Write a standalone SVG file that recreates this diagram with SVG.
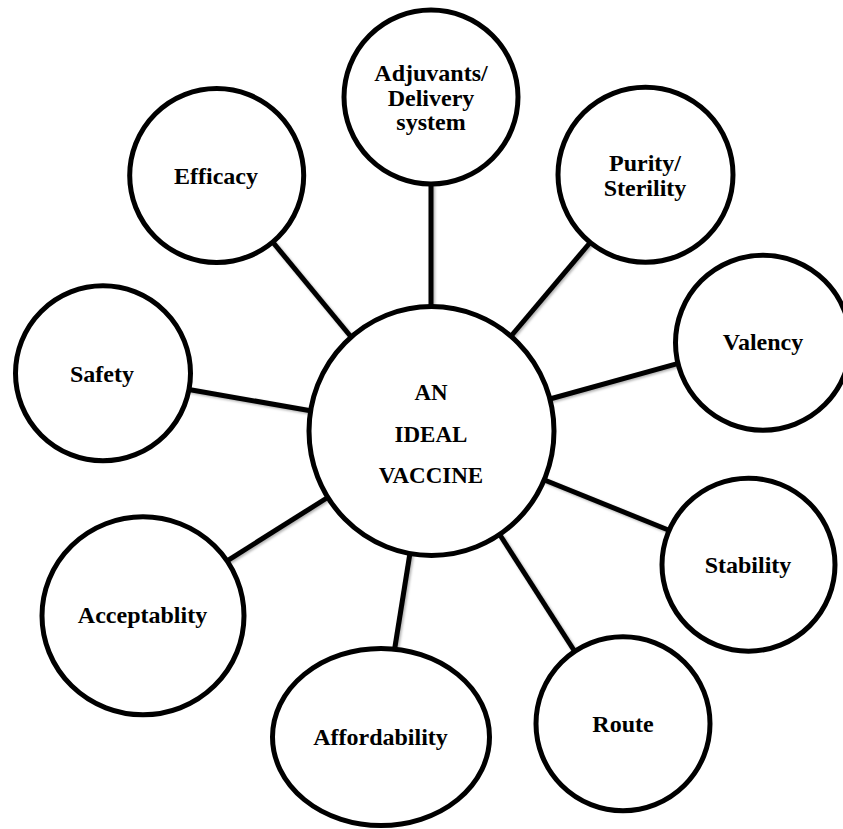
<svg xmlns="http://www.w3.org/2000/svg" width="843" height="829" viewBox="0 0 843 829">
<style>
.node{fill:#ffffff;stroke:#000000;stroke-width:5}
.lbl{font-family:"Liberation Serif","Times New Roman",serif;font-weight:bold;font-size:24px;fill:#000000;text-anchor:middle}
.ctr{font-size:23px}
.conn line{stroke:#000000;stroke-width:5;stroke-linecap:butt}
</style>
<defs>
<filter id="sh" x="-20%" y="-20%" width="140%" height="140%">
<feDropShadow dx="1.5" dy="1.5" stdDeviation="1.2" flood-color="#000000" flood-opacity="0.3"/>
</filter>
</defs>
<rect x="0" y="0" width="843" height="829" fill="#ffffff"/>
<g id="connectors" class="conn" filter="url(#sh)">
<line x1="431" y1="180" x2="431" y2="312"/>
<line x1="271" y1="240" x2="352" y2="338"/>
<line x1="591" y1="241.5" x2="509" y2="338.5"/>
<line x1="681" y1="362.6" x2="548" y2="399.5"/>
<line x1="186" y1="389" x2="312" y2="411"/>
<line x1="672" y1="531.5" x2="542" y2="479"/>
<line x1="224" y1="562.8" x2="330" y2="496"/>
<line x1="394" y1="653" x2="410" y2="553"/>
<line x1="577" y1="655" x2="500" y2="535"/>
</g>
<g id="node-center">
<ellipse class="node" cx="431.5" cy="431" rx="122.5" ry="124.5"/>
<text class="lbl ctr" x="431" y="400">AN</text>
<text class="lbl ctr" x="431" y="441.7">IDEAL</text>
<text class="lbl ctr" x="431" y="483">VACCINE</text>
</g>
<g id="node-adjuvants">
<circle class="node" cx="431" cy="97" r="87"/>
<text class="lbl" x="431" y="81">Adjuvants/</text>
<text class="lbl" x="431" y="106">Delivery</text>
<text class="lbl" x="431" y="130">system</text>
</g>
<g id="node-efficacy">
<circle class="node" cx="216.7" cy="175.5" r="87"/>
<text class="lbl" x="216" y="184">Efficacy</text>
</g>
<g id="node-purity">
<circle class="node" cx="645.5" cy="174.7" r="87.5"/>
<text class="lbl" x="645" y="171">Purity/</text>
<text class="lbl" x="645" y="195.7">Sterility</text>
</g>
<g id="node-valency">
<circle class="node" cx="763" cy="342.7" r="87.5"/>
<text class="lbl" x="763" y="350">Valency</text>
</g>
<g id="node-safety">
<circle class="node" cx="103" cy="373.3" r="87.5"/>
<text class="lbl" x="102" y="381.7">Safety</text>
</g>
<g id="node-stability">
<circle class="node" cx="748.5" cy="564.7" r="86.5"/>
<text class="lbl" x="748" y="573">Stability</text>
</g>
<g id="node-acceptablity">
<ellipse class="node" cx="143" cy="615.8" rx="101" ry="99"/>
<text class="lbl" x="142.5" y="623">Acceptablity</text>
</g>
<g id="node-affordability">
<ellipse class="node" cx="381" cy="737" rx="108.5" ry="88.5"/>
<text class="lbl" x="380.5" y="745">Affordability</text>
</g>
<g id="node-route">
<circle class="node" cx="623" cy="723.7" r="87"/>
<text class="lbl" x="623" y="731.7">Route</text>
</g>
</svg>
